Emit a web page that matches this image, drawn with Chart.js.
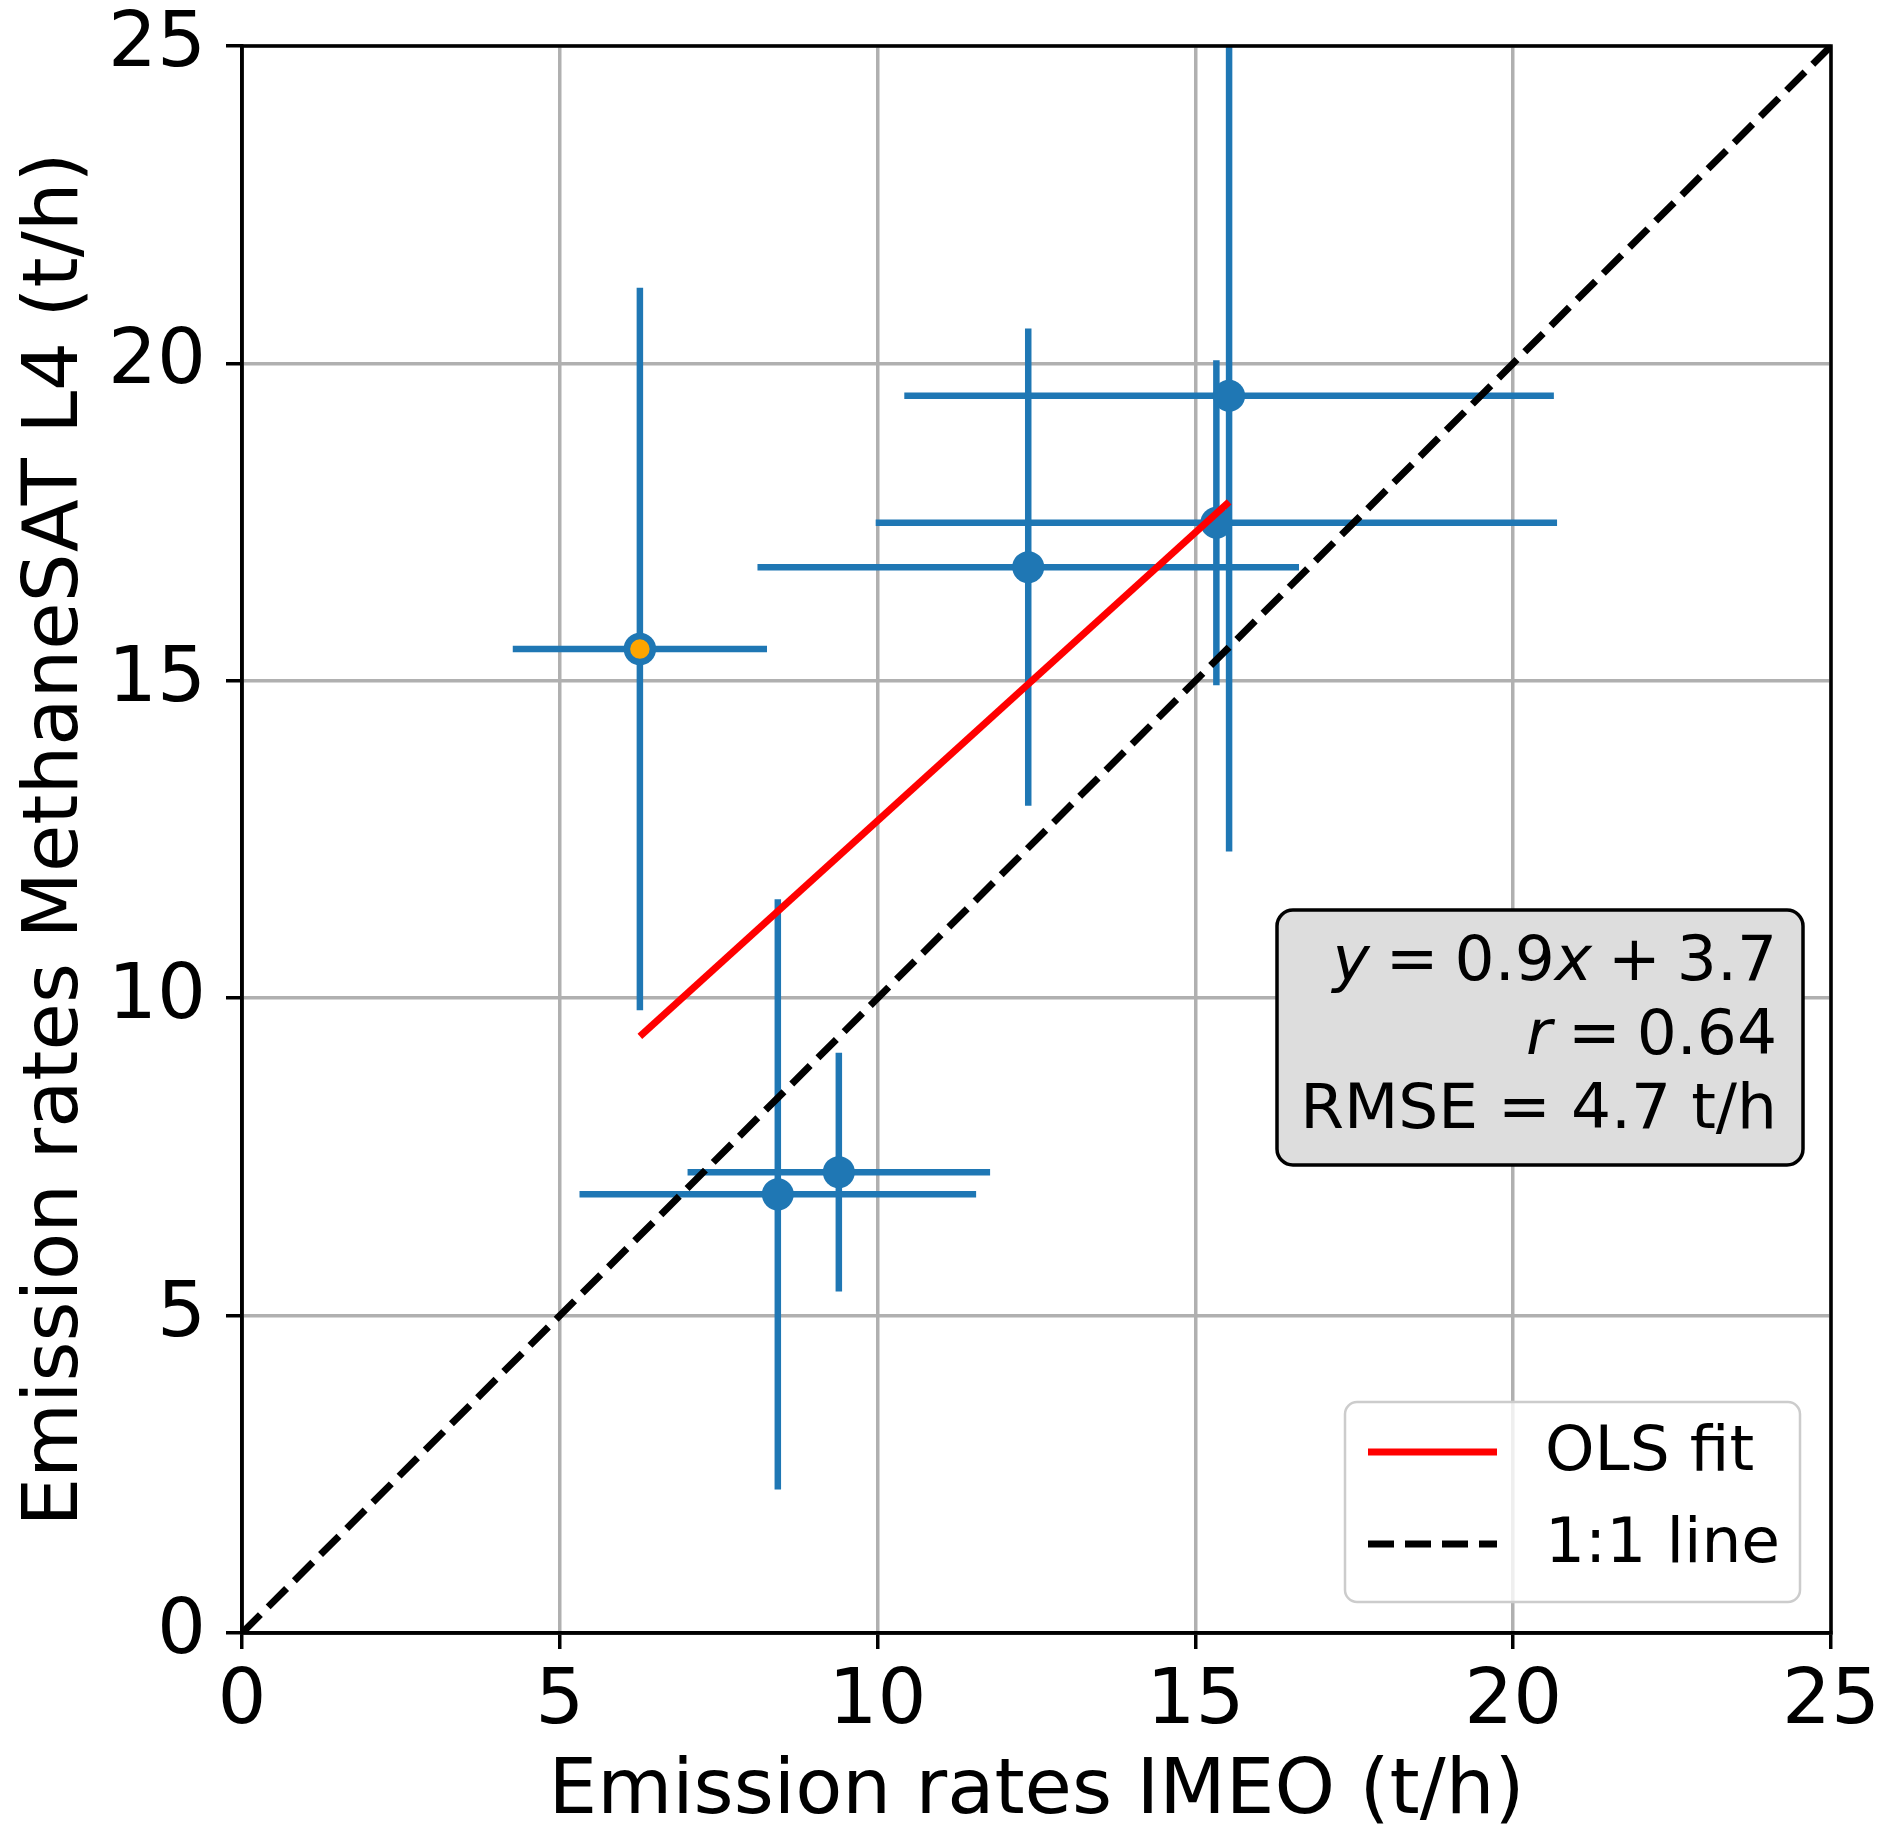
<!DOCTYPE html>
<html>
<head>
<meta charset="utf-8">
<script src="https://cdn.jsdelivr.net/npm/chart.js@4.4.1/dist/chart.umd.min.js"></script>
<style>
  html, body { margin: 0; padding: 0; background: #fff; }
  canvas { display: block; }
</style>
</head>
<body>
<canvas id="chart" width="1892" height="1847"></canvas>
<script>
// values (t/h)
const imeo = [6.26, 12.37, 15.33, 15.53, 8.43, 9.39];
const imeoErr = [2.0, 4.26, 5.36, 5.11, 3.12, 2.38];
const msat = [15.50, 16.79, 17.49, 19.49, 6.91, 7.26];
const msatErr = [5.69, 3.76, 2.56, 7.18, 4.65, 1.88];
const flagged = [true, false, false, false, false, false]; // orange-filled point
const olsX = [6.26, 15.53];
const olsY = [9.40, 17.82];
const oneToOne = [0, 25];
const tickValues = [0, 5, 10, 15, 20, 25];
// [text, italic]; ' ' stands for a mathtext-sized gap
const statLines = [
  [['y', true], [' ', false], ['=', false], [' ', false], ['0.9', false], ['x', true], [' ', false], ['+', false], [' ', false], ['3.7', false]],
  [['r', true], [' ', false], ['=', false], [' ', false], ['0.64', false]],
  [['RMSE = 4.7 t/h', false]]
];

const BLUE = '#1f77b4';
const FONT = 'DejaVu Sans';

const pts = (xs, ys) => xs.map((x, i) => ({ x: x, y: ys[i] }));

// error bars as short line segments
const errSets = [];
imeo.forEach((x, i) => {
  const y = msat[i];
  const common = { showLine: true, borderColor: BLUE, borderWidth: 6.5, pointRadius: 0, order: 5, clip: 0 };
  errSets.push(Object.assign({ data: [{ x: x - imeoErr[i], y: y }, { x: x + imeoErr[i], y: y }] }, common));
  errSets.push(Object.assign({ data: [{ x: x, y: y - msatErr[i] }, { x: x, y: y + msatErr[i] }] }, common));
});

const plain = pts(imeo.filter((_, i) => !flagged[i]), msat.filter((_, i) => !flagged[i]));
const marked = pts(imeo.filter((_, i) => flagged[i]), msat.filter((_, i) => flagged[i]));

const datasets = [
  { label: '1:1 line', data: pts(oneToOne, oneToOne), showLine: true, borderColor: '#000', borderWidth: 7,
    borderDash: [26, 11], pointRadius: 0, order: 0 },
  { label: 'OLS fit', data: pts(olsX, olsY), showLine: true, borderColor: '#ff0000', borderWidth: 7,
    pointRadius: 0, order: 1 },
  { data: marked, pointRadius: 13, pointBorderWidth: 6.5, pointBorderColor: BLUE, pointBackgroundColor: '#ffa500', order: 2 },
  { data: plain, pointRadius: 16, pointBorderWidth: 0, pointBackgroundColor: BLUE, order: 3 }
].concat(errSets);

function roundBox(ctx, x, y, w, h, r) {
  ctx.beginPath();
  ctx.moveTo(x + r, y);
  ctx.arcTo(x + w, y, x + w, y + h, r);
  ctx.arcTo(x + w, y + h, x, y + h, r);
  ctx.arcTo(x, y + h, x, y, r);
  ctx.arcTo(x, y, x + w, y, r);
  ctx.closePath();
}

const overlays = {
  id: 'overlays',
  afterDatasetsDraw(chart) {
    const ctx = chart.ctx;
    const a = chart.chartArea;
    ctx.save();

    // full frame (matplotlib spines)
    ctx.strokeStyle = '#000';
    ctx.lineWidth = 3.5;
    ctx.strokeRect(a.left, a.top, a.right - a.left, a.bottom - a.top);

    // stats box
    const bx = a.left + 1035, by = a.top + 864, bw = 526, bh = 255;
    roundBox(ctx, bx, by, bw, bh, 16);
    ctx.fillStyle = '#dddddd';
    ctx.fill();
    ctx.lineWidth = 3.5;
    ctx.strokeStyle = '#000';
    ctx.stroke();
    ctx.fillStyle = '#000';
    ctx.textBaseline = 'alphabetic';
    ctx.textAlign = 'left';
    const rightEdge = bx + bw - 26;
    statLines.forEach((line, k) => {
      const base = a.top + 934 + k * 74;
      let x = rightEdge;
      for (let j = line.length - 1; j >= 0; j--) {
        const seg = line[j];
        if (seg[0] === ' ') { x -= 16; continue; }
        ctx.font = (seg[1] ? 'oblique ' : '') + '63px "' + FONT + '"';
        x -= ctx.measureText(seg[0]).width;
        ctx.fillText(seg[0], x, base);
      }
    });

    // legend
    const lx = a.left + 1103, ly = a.top + 1356, lw = 455, lh = 200;
    roundBox(ctx, lx, ly, lw, lh, 12);
    ctx.fillStyle = 'rgba(255,255,255,0.8)';
    ctx.fill();
    ctx.lineWidth = 2.5;
    ctx.strokeStyle = '#cccccc';
    ctx.stroke();
    const items = [datasets[1], datasets[0]];
    items.forEach((ds, k) => {
      const yy = ly + 50 + k * 92;
      ctx.beginPath();
      ctx.strokeStyle = ds.borderColor;
      ctx.lineWidth = ds.borderWidth;
      ctx.setLineDash(ds.borderDash || []);
      ctx.moveTo(lx + 23, yy);
      ctx.lineTo(lx + 152, yy);
      ctx.stroke();
      ctx.setLineDash([]);
      ctx.fillStyle = '#000';
      ctx.font = '63px "' + FONT + '"';
      ctx.textBaseline = 'middle';
      ctx.fillText(ds.label, lx + 200, yy + 2);
    });
    ctx.restore();
  }
};

const axisCommon = {
  type: 'linear',
  min: 0,
  max: 25,
  afterBuildTicks: s => { s.ticks = tickValues.map(v => ({ value: v })); },
  grid: { color: '#b0b0b0', lineWidth: 3.5, tickLength: 16, tickColor: '#000', tickWidth: 3.5 },
  border: { color: '#000', width: 3.5 },
  ticks: { color: '#000', font: { family: FONT, size: 77 } }
};

new Chart(document.getElementById('chart'), {
  type: 'scatter',
  data: { datasets: datasets },
  options: {
    responsive: false,
    animation: false,
    devicePixelRatio: 1,
    layout: { padding: { top: 46, right: 61, left: 0, bottom: 0 } },
    plugins: { legend: { display: false }, tooltip: { enabled: false } },
    scales: {
      x: Object.assign({}, axisCommon, {
        position: 'bottom',
        ticks: Object.assign({}, axisCommon.ticks, { padding: 8, maxRotation: 0 }),
        title: { display: true, text: 'Emission rates IMEO (t/h)', color: '#000',
                 font: { family: FONT, size: 77 }, padding: { top: 0, bottom: 8 } },
        afterFit: s => { s.height = 214; s.paddingLeft = 0; s.paddingRight = 0; }
      }),
      y: Object.assign({}, axisCommon, {
        position: 'left',
        ticks: Object.assign({}, axisCommon.ticks, { padding: 20 }),
        title: { display: true, text: 'Emission rates MethaneSAT L4 (t/h)', color: '#000',
                 font: { family: FONT, size: 77 }, padding: { top: 11, bottom: 0 } },
        afterFit: s => { s.width = 242; s.paddingTop = 0; s.paddingBottom = 0; }
      })
    }
  },
  plugins: [overlays]
});
</script>
</body>
</html>
